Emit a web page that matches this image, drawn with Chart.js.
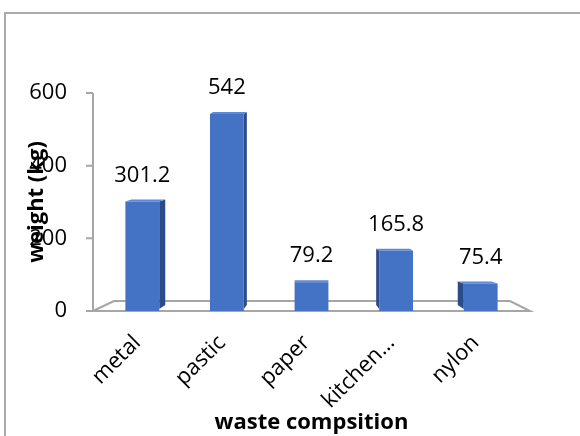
<!DOCTYPE html>
<html>
<head>
<meta charset="utf-8">
<script src="https://cdn.jsdelivr.net/npm/chart.js@4"></script>
<style>
  html, body { margin: 0; padding: 0; background: #fff; }
  #wrap { width: 580px; height: 436px; position: relative; }
</style>
</head>
<body>
<div id="wrap"><canvas id="wasteChart" width="580" height="436"></canvas></div>
<script>
// Chart data
const categories = ["metal", "pastic", "paper", "kitchen waste", "nylon"];
const weights = [301.2, 542, 79.2, 165.8, 75.4];
const yTicks = [0, 200, 400, 600];

const FONT = "'Open Sans', 'Liberation Sans', sans-serif";
const frontColor = "#4472C4";
const sideColor = "#2B4C86";
const topColor = "#5F8AD8";
const lineGray = "#A6A6A6";

// Draws the outer frame, 3D floor, y axis line and bar sides
const threeDPlugin = {
    id: "threeD",
    beforeDraw(chart) {
        const ctx = chart.ctx;
        ctx.save();
        ctx.strokeStyle = "#ABABAB";
        ctx.lineWidth = 2;
        ctx.strokeRect(5, 13, 700, 700);
        ctx.restore();
    },
    beforeDatasetsDraw(chart) {
        const ctx = chart.ctx;
        const area = chart.chartArea;
        const y = chart.scales.y;
        const y0 = y.getPixelForValue(0);
        const axisX = area.left - 7;
        const right = area.right + 7;

        ctx.save();
        ctx.strokeStyle = lineGray;
        ctx.lineWidth = 2;
        // floor
        ctx.beginPath();
        ctx.moveTo(axisX, y0);
        ctx.lineTo(axisX + 21, y0 - 10);
        ctx.lineTo(right - 20, y0 - 10);
        ctx.lineTo(right, y0);
        ctx.lineTo(axisX - 7, y0);
        ctx.stroke();
        // y axis line + ticks
        ctx.beginPath();
        ctx.moveTo(axisX, y.getPixelForValue(yTicks[yTicks.length - 1]));
        ctx.lineTo(axisX, y0);
        yTicks.forEach(function (t) {
            const py = y.getPixelForValue(t);
            ctx.moveTo(axisX - 7, py);
            ctx.lineTo(axisX, py);
        });
        ctx.stroke();

        // bar sides and tops
        const cx = (area.left + area.right) / 2;
        chart.getDatasetMeta(0).data.forEach(function (bar) {
            const half = bar.width / 2;
            const x0 = bar.x - half, x1 = bar.x + half;
            const top = bar.y, bottom = bar.base;
            const dx = (cx - bar.x) / 28;
            const dy = -2;
            const xs = dx > 0 ? x1 : x0;
            ctx.fillStyle = sideColor;
            ctx.beginPath();
            ctx.moveTo(xs, top);
            ctx.lineTo(xs + dx, top + dy);
            ctx.lineTo(xs + dx, bottom + dy - 4);
            ctx.lineTo(xs, bottom - 2);
            ctx.closePath();
            ctx.fill();
            ctx.fillStyle = topColor;
            ctx.beginPath();
            ctx.moveTo(x0, top);
            ctx.lineTo(x1, top);
            ctx.lineTo(x1 + dx, top + dy);
            ctx.lineTo(x0 + dx, top + dy);
            ctx.closePath();
            ctx.fill();
        });
        ctx.restore();
    },
    afterDatasetsDraw(chart) {
        const ctx = chart.ctx;
        ctx.save();
        ctx.font = "22px " + FONT;
        ctx.fillStyle = "#000";
        ctx.textAlign = "center";
        ctx.textBaseline = "middle";
        chart.getDatasetMeta(0).data.forEach(function (bar, i) {
            ctx.fillText(String(weights[i]), bar.x, bar.y - 26);
        });
        ctx.restore();
    }
};

const ctx = document.getElementById("wasteChart").getContext("2d");
new Chart(ctx, {
    type: "bar",
    data: {
        labels: categories,
        datasets: [{
            label: "weight",
            data: weights,
            backgroundColor: frontColor,
            borderWidth: 0,
            barPercentage: 0.4,
            categoryPercentage: 1.0
        }]
    },
    options: {
        responsive: false,
        animation: false,
        devicePixelRatio: 1,
        layout: {
            padding: { left: 4, right: 57, top: 93, bottom: 0 }
        },
        plugins: {
            legend: { display: false },
            tooltip: { enabled: false }
        },
        scales: {
            x: {
                offset: true,
                grid: { display: false },
                border: { display: false },
                ticks: {
                    color: "#000",
                    font: { family: FONT, size: 22 },
                    maxRotation: 45,
                    minRotation: 45,
                    autoSkip: false,
                    padding: 11,
                    labelOffset: -5,
                    callback: function (value) {
                        const label = this.getLabelForValue(value);
                        return label.length > 8 ? label.slice(0, 7) + "\u2026" : label;
                    }
                },
                title: {
                    display: true,
                    text: "waste compsition",
                    color: "#000",
                    font: { family: FONT, size: 22, weight: "bold" },
                    padding: { top: 0, bottom: 0 }
                },
                afterFit: function (scale) { scale.height = 125; }
            },
            y: {
                min: 0,
                max: 600,
                grid: { display: false },
                border: { display: false },
                ticks: {
                    stepSize: 200,
                    color: "#000",
                    font: { family: FONT, size: 22 },
                    padding: 25
                },
                title: {
                    display: true,
                    text: "weight (kg)",
                    color: "#000",
                    font: { family: FONT, size: 22, weight: "bold" },
                    padding: { top: 20, bottom: 0 }
                },
                afterFit: function (scale) { scale.width = 96; }
            }
        }
    },
    plugins: [threeDPlugin]
});
</script>
</body>
</html>
